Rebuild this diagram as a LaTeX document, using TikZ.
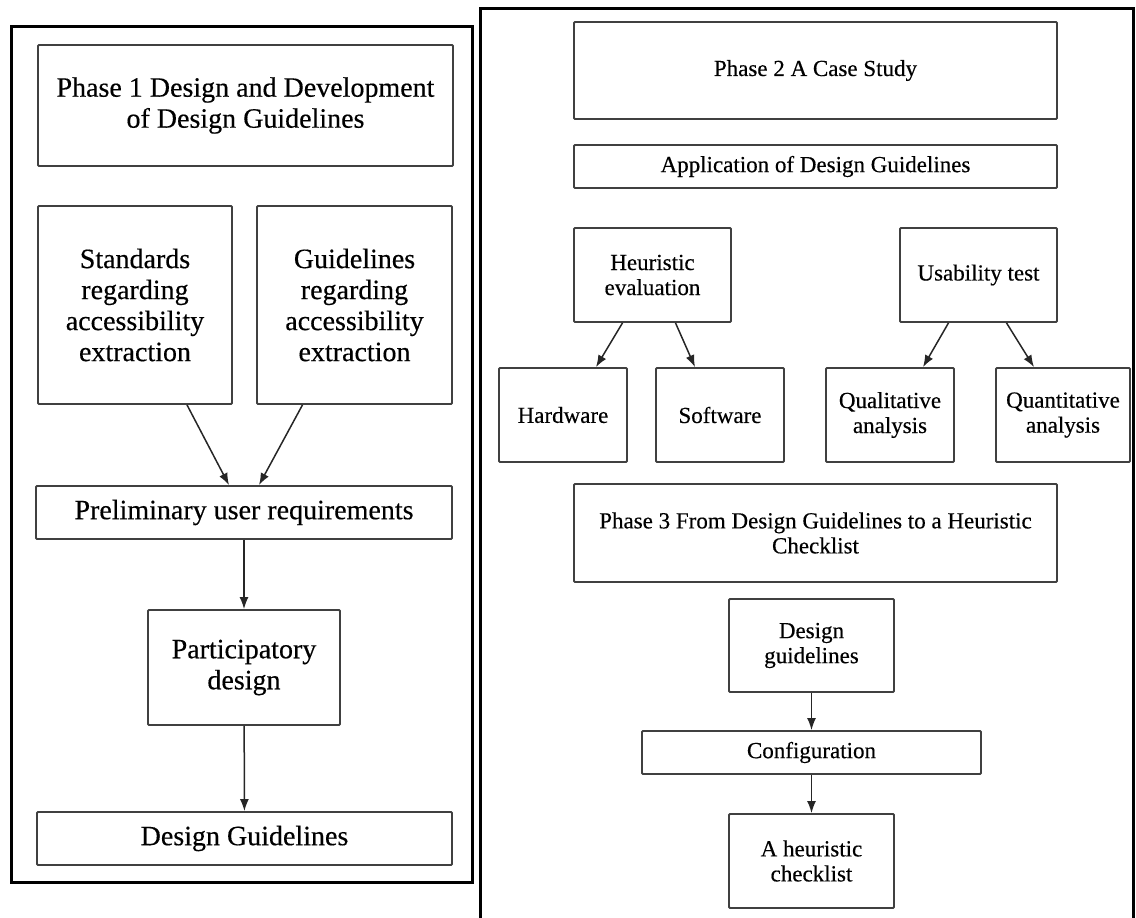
\documentclass[tikz,border=0pt]{standalone}
\usepackage{fontspec}
\setmainfont{Liberation Serif}[FakeBold=0.4]
\usetikzlibrary{calc}
\usetikzlibrary{arrows.meta, positioning}

\tikzset{
    box/.style={draw=black!75, line width=1.8pt, rounded corners=1pt, align=center, inner sep=0pt},
    bigbox/.style={box, font=\fontsize{28}{31}\selectfont},
    smallbox/.style={box, font=\fontsize{23}{25}\selectfont},
    frame/.style={draw=black, line width=3pt},
    link/.style={draw=black!85, line width=1.5pt, -{Latex[length=12pt,width=9pt]}}
}

\begin{document}
\begin{tikzpicture}[x=1pt,y=-1pt]

\useasboundingbox (0,0) rectangle (1136,918);

% Outer frames
\draw[frame] (11,26) rectangle (472,882);
\draw[frame] (480,918) -- (480,8) -- (1133,8) -- (1133,918);

% Phase 1
\node[bigbox, minimum width=415, minimum height=121] (phaseA) at (245.5,105.5) {Phase 1 Design and Development\\of Design Guidelines};
\node[bigbox, minimum width=194, minimum height=198] (standards) at (135,305) {Standards\\regarding\\accessibility\\extraction};
\node[bigbox, minimum width=195, minimum height=198] (guidelines) at (354.5,305) {Guidelines\\regarding\\accessibility\\extraction};
\node[bigbox, minimum width=416, minimum height=53] (prelim) at (244,512.5) {Preliminary user requirements};
\node[bigbox, minimum width=192, minimum height=115] (particip) at (244,667.5) {Participatory\\design};
\node[bigbox, minimum width=415, minimum height=53] (designGL) at (244.5,838.5) {Design Guidelines};

% Arrows for Phase 1
\draw[link] ([xshift=52pt]standards.south) -- ([xshift=-15pt]prelim.north);
\draw[link] ([xshift=-52pt]guidelines.south) -- ([xshift=15pt]prelim.north);
\draw[link] (prelim) -- (particip);
\draw[link] (particip) -- (designGL);

% Phase 2
\node[smallbox, minimum width=483, minimum height=97] (phaseB) at (815.5,70.5) {Phase 2 A Case Study};
\node[smallbox, minimum width=483, minimum height=43] (apply) at (815.5,166.5) {Application of Design Guidelines};
\node[smallbox, minimum width=157, minimum height=94] (heuristic) at (652.5,275) {Heuristic\\evaluation};
\node[smallbox, minimum width=157, minimum height=94] (usability) at (978.5,275) {Usability test};
\node[smallbox, minimum width=128, minimum height=94] (hardware) at (563,415) {Hardware};
\node[smallbox, minimum width=128, minimum height=94] (software) at (720,415) {Software};
\node[smallbox, minimum width=128, minimum height=94] (quali) at (890,415) {Qualitative\\analysis};
\node[smallbox, minimum width=134, minimum height=94] (quanti) at (1063,415) {Quantitative\\analysis};

% Arrows for Phase 2
\draw[link] ([xshift=-30pt]heuristic.south) -- ([xshift=33pt]hardware.north);
\draw[link] ([xshift=23pt]heuristic.south) -- ([xshift=-25pt]software.north);
\draw[link] ([xshift=-30pt]usability.south) -- ([xshift=33pt]quali.north);
\draw[link] ([xshift=28pt]usability.south) -- ([xshift=-29pt]quanti.north);

% Phase 3
\node[smallbox, minimum width=483, minimum height=98] (phaseC) at (815.5,533) {Phase 3 From Design Guidelines to a Heuristic\\Checklist};
\node[smallbox, minimum width=165, minimum height=93] (dguide) at (811.5,645.5) {Design\\guidelines};
\node[smallbox, minimum width=339, minimum height=43] (config) at (811.5,752.5) {Configuration};
\node[smallbox, minimum width=165, minimum height=94] (checklist) at (811.5,861) {A heuristic\\checklist};

% Arrows for Phase 3
\draw[link] (dguide) -- (config);
\draw[link] (config) -- (checklist);

\end{tikzpicture}
\end{document}
